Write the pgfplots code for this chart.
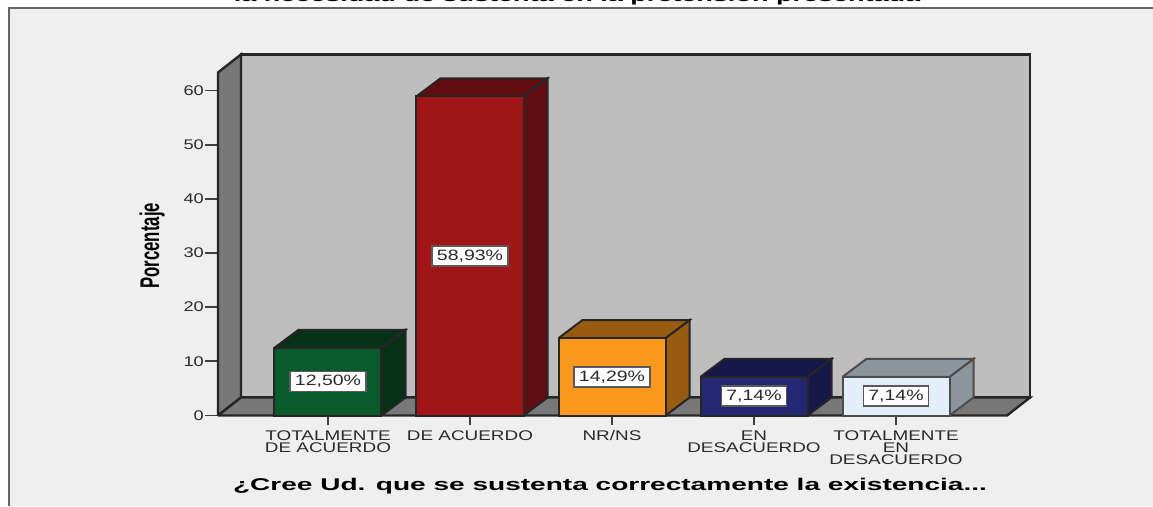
\documentclass[border=0pt]{standalone}
\usepackage{pgfplots}
\pgfplotsset{compat=1.18}
\usepackage{fontspec}
\setmainfont{Liberation Sans}
\newfontfamily\wide[FakeStretch=1.3]{Liberation Sans}
\newfontfamily\tickf[FakeStretch=1.35]{Liberation Sans}
\newfontfamily\widest[FakeStretch=1.65]{Liberation Sans}
\newfontfamily\titlef[FakeStretch=1.59]{Liberation Sans}
\newfontfamily\narrow[FakeStretch=0.62]{Liberation Sans}
\definecolor{bg}{HTML}{EFEFEF}
\definecolor{wall}{HTML}{BEBEBE}
\definecolor{floorc}{HTML}{787878}
\definecolor{txt}{HTML}{2A2A2A}
\definecolor{grn}{HTML}{0B5A2E}\definecolor{grnd}{HTML}{063018}
\definecolor{red1}{HTML}{A01518}\definecolor{redd}{HTML}{610D0F}
\definecolor{org}{HTML}{FB981D}\definecolor{orgd}{HTML}{985C11}
\definecolor{nav}{HTML}{262772}\definecolor{navd}{HTML}{17184A}
\definecolor{whi}{HTML}{E3EEFA}\definecolor{whid}{HTML}{8C949D}
\tikzset{lab/.style={draw=black!65,line width=1.6pt,fill=white,text=txt,font=\wide\fontsize{15}{15}\selectfont,inner xsep=5pt,inner ysep=0pt,minimum height=20pt,anchor=center}}
\begin{document}
\begin{tikzpicture}[x=1pt,y=1pt]
\path[use as bounding box] (0,0) rectangle (1153,506);
\clip (0,0) rectangle (1153,506);
\fill[bg] (8,0) rectangle (1153,498);
\draw[color=black!60,line width=2pt] (8.5,0) -- (8.5,498) -- (1153,498);
\node[font=\titlef\bfseries\fontsize{17}{17}\selectfont,anchor=base] at (577,504) {la necesidad de sustenta en la pretensión presentada};
\begin{axis}[
  at={(218pt,90.5pt)},anchor=south west,
  scale only axis,width=812pt,height=361pt,
  xmin=-0.7746,xmax=4.9437,ymin=0,ymax=66.64,
  clip=false,
  axis line style={draw=none},
  tick align=outside,xtick pos=bottom,ytick pos=left,
  major tick length=13pt,minor tick length=9pt,
  ytick={0,10,20,30,40,50,60},
  xtick={0,1,2,3,4},
  minor xtick={0,1,2,3,4},
  x tick style={draw=none},
  minor x tick style={draw=black!75,line width=1.8pt},
  y tick style={draw=black!75,line width=1.8pt},
  xticklabels={{TOTALMENTE\\DE ACUERDO},{DE ACUERDO},{NR/NS},{EN\\DESACUERDO},{TOTALMENTE\\EN\\DESACUERDO}},
  xticklabel style={align=center,font=\tickf\fontsize{14}{11.8}\selectfont,text=txt,anchor=north,inner sep=0pt,yshift=-2pt},
  yticklabel style={font=\wide\fontsize{14}{14}\selectfont,text=txt,inner sep=1pt},
  /pgf/number format/assume math mode=true,
  xlabel={\widest\bfseries\fontsize{17}{17}\selectfont ¿Cree Ud. que se sustenta correctamente la existencia...},
  xlabel style={at={(axis description cs:0.4828,-0.208)},anchor=base,inner sep=0pt},
  ylabel={\narrow\bfseries\fontsize{27}{27}\selectfont Porcentaje},
  ylabel style={at={(axis description cs:-0.0725,0.47)},anchor=base,rotate=0,inner sep=0pt},
]
% walls and floor
\addplot[fill=wall,draw=black!85,line width=2.4pt,line join=miter] coordinates {(-0.6127,3.323)(4.9437,3.323)(4.9437,66.64)(-0.6127,66.64)(-0.6127,3.323)};
\addplot[fill=floorc,draw=black!85,line width=2.4pt] coordinates {(-0.7746,0)(-0.6127,3.323)(-0.6127,66.64)(-0.7746,63.32)(-0.7746,0)};
\addplot[fill=floorc,draw=black!85,line width=2.4pt] coordinates {(-0.7746,0)(4.7817,0)(4.9437,3.323)(-0.6127,3.323)(-0.7746,0)};
% bar 1
\addplot[fill=grnd,draw=black!85,line width=2pt] coordinates {(0.3768,0)(0.5458,3.323)(0.5458,15.823)(0.3768,12.5)(0.3768,0)};
\addplot[fill=grnd,draw=black!85,line width=2pt] coordinates {(-0.3768,12.5)(-0.2078,15.823)(0.5458,15.823)(0.3768,12.5)(-0.3768,12.5)};
\addplot[ybar,bar width=107pt,bar shift=0pt,fill=grn,draw=black!85,line width=2pt] coordinates {(0,12.5)};
% bar 2
\addplot[fill=redd,draw=black!85,line width=2pt] coordinates {(1.3768,0)(1.5458,3.323)(1.5458,62.253)(1.3768,58.93)(1.3768,0)};
\addplot[fill=redd,draw=black!85,line width=2pt] coordinates {(0.6232,58.93)(0.7922,62.253)(1.5458,62.253)(1.3768,58.93)(0.6232,58.93)};
\addplot[ybar,bar width=107pt,bar shift=0pt,fill=red1,draw=black!85,line width=2pt] coordinates {(1,58.93)};
% bar 3
\addplot[fill=orgd,draw=black!85,line width=2pt] coordinates {(2.3768,0)(2.5458,3.323)(2.5458,17.613)(2.3768,14.29)(2.3768,0)};
\addplot[fill=orgd,draw=black!85,line width=2pt] coordinates {(1.6232,14.29)(1.7922,17.613)(2.5458,17.613)(2.3768,14.29)(1.6232,14.29)};
\addplot[ybar,bar width=107pt,bar shift=0pt,fill=org,draw=black!85,line width=2pt] coordinates {(2,14.29)};
% bar 4
\addplot[fill=navd,draw=black!85,line width=2pt] coordinates {(3.3768,0)(3.5458,3.323)(3.5458,10.463)(3.3768,7.14)(3.3768,0)};
\addplot[fill=navd,draw=black!85,line width=2pt] coordinates {(2.6232,7.14)(2.7922,10.463)(3.5458,10.463)(3.3768,7.14)(2.6232,7.14)};
\addplot[ybar,bar width=107pt,bar shift=0pt,fill=nav,draw=black!85,line width=2pt] coordinates {(3,7.14)};
% bar 5
\addplot[fill=whid,draw=black!70,line width=2pt] coordinates {(4.3768,0)(4.5458,3.323)(4.5458,10.463)(4.3768,7.14)(4.3768,0)};
\addplot[fill=whid,draw=black!70,line width=2pt] coordinates {(3.6232,7.14)(3.7922,10.463)(4.5458,10.463)(4.3768,7.14)(3.6232,7.14)};
\addplot[ybar,bar width=107pt,bar shift=0pt,fill=whi,draw=black!70,line width=2pt] coordinates {(4,7.14)};
% value labels
\node[lab] at (axis cs:0,6.25) {12,50\%};
\node[lab] at (axis cs:1,29.465) {58,93\%};
\node[lab] at (axis cs:2,7.145) {14,29\%};
\node[lab] at (axis cs:3,3.57) {7,14\%};
\node[lab] at (axis cs:4,3.57) {7,14\%};
\end{axis}
\end{tikzpicture}
\end{document}
